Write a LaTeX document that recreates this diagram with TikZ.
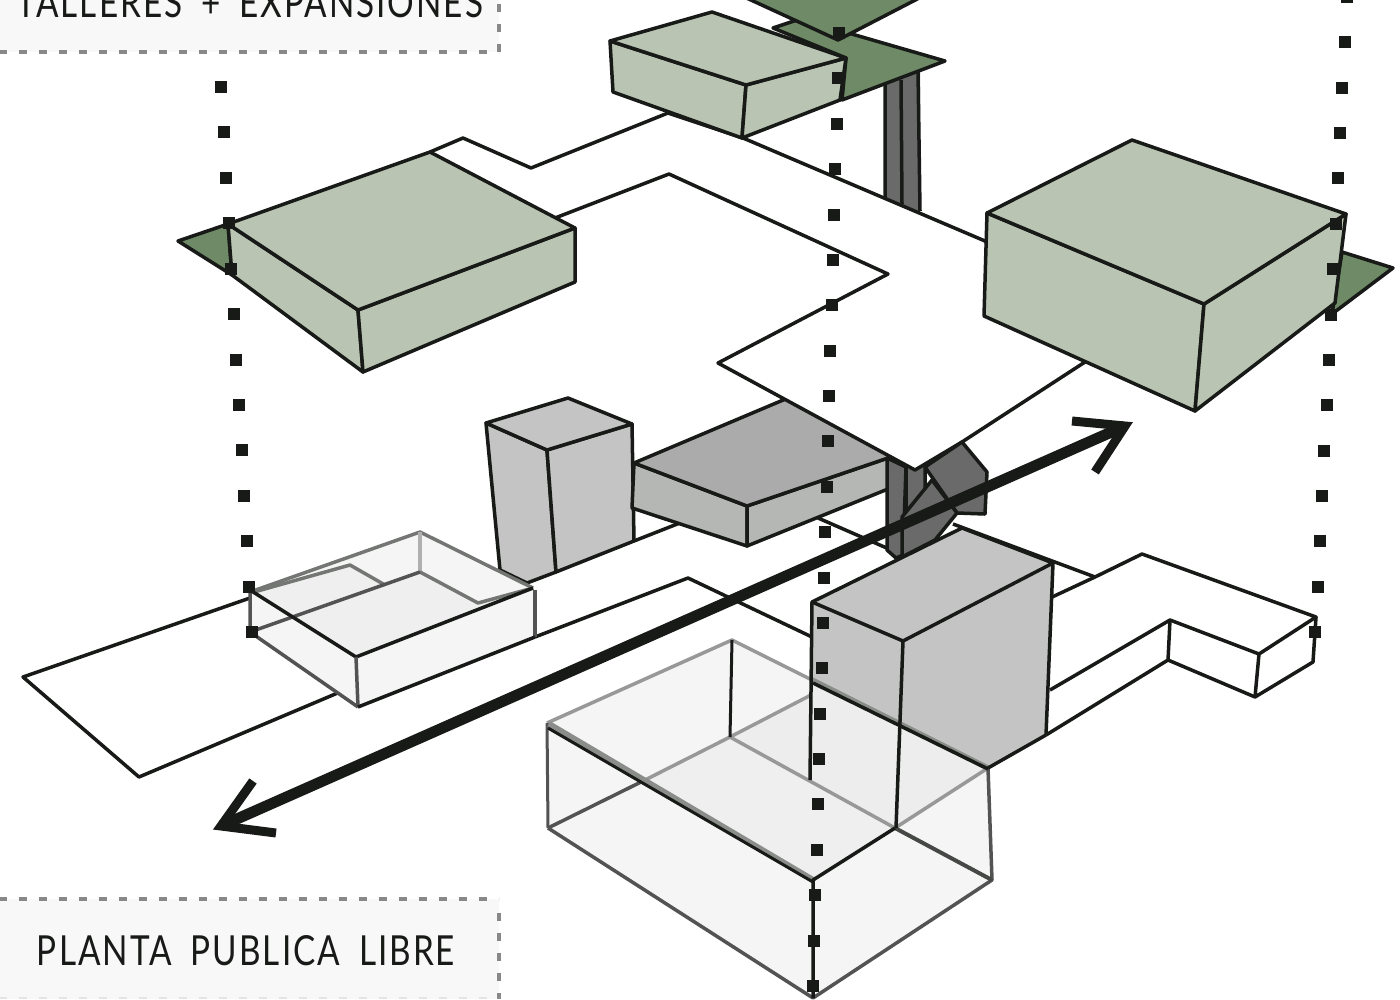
\documentclass[tikz,border=0pt]{standalone}
\usepackage{fontspec}
\setmainfont[WordSpace=1.8]{Lato}
\definecolor{ink}{HTML}{181A18}
\definecolor{lightgreen}{HTML}{B9C5B2}
\definecolor{darkgreen}{HTML}{6F8A66}
\definecolor{greyface}{HTML}{C4C4C4}
\definecolor{slabtop}{HTML}{ABABAB}
\definecolor{slabside}{HTML}{B5B7B5}
\definecolor{column}{HTML}{6A6A6A}
\definecolor{panel}{HTML}{F8F8F8}
\definecolor{dashgrey}{HTML}{888888}
\definecolor{glass}{HTML}{F5F5F5}
\definecolor{glassfloor}{HTML}{EFEFEF}
\definecolor{glassback}{HTML}{EDEDED}
\tikzset{
  ln/.style={draw=ink,line width=3.5pt,line join=round},
  edgeA/.style={draw=ink!75,line width=3.5pt,line join=round},
  edgeB/.style={draw=ink!60,line width=3.5pt,line join=round},
  edgeC/.style={draw=ink!45,line width=3.5pt,line join=round},
  panelline/.style={draw=dashgrey,line width=4pt,dash pattern=on 8pt off 12pt},
  label/.style={font=\fontsize{42}{42}\selectfont,text=ink,inner sep=0pt,anchor=base},
  sq/.style={fill=ink,draw=none}
}
\begin{document}
\begin{tikzpicture}[x=1pt,y=-1pt]
\useasboundingbox (0,0) rectangle (1400,999);
\fill[white] (0,0) rectangle (1400,999);
% panels
\fill[panel] (0,-5) rectangle (499,52);
\fill[panel] (0,899) rectangle (499,999);
\draw[panelline] (-1,52) -- (499,52);
\draw[panelline] (499,4) -- (499,52);
\draw[panelline] (-1,899) -- (499,899);
\draw[panelline] (499,913) -- (499,999);
\draw[draw=ink!12,line width=2pt,dash pattern=on 8pt off 12pt] (-1,998) -- (499,998);
\node[label] (talleres) at (250,17) {\addfontfeature{LetterSpace=6}\resizebox{466pt}{30pt}{TALLERES + EXPANSIONES}};
\node[label] (planta) at (246,965) {\addfontfeature{LetterSpace=6}\resizebox{418pt}{30pt}{PLANTA PUBLICA LIBRE}};
% upper columns
\fill[column] (885,70) -- (920,70) -- (920,215) -- (885,200) -- cycle;
\draw[ln] (885,83) -- (885,198) (901,80) -- (902,204) (918,70) -- (920,211);
% ground floor outline
\draw[ln] (250,598) -- (23,677) -- (139,777) -- (340,692);
\draw[ln] (535,637) -- (688,578) -- (812,637);
\draw[ln] (634,541) -- (690,519);
\draw[ln] (818,518) -- (905,556);
\draw[ln] (953,524) -- (1095,577);
% right wing of ground floor
\fill[white] (1048,600) -- (1095,577) -- (1142,554) -- (1316,617) -- (1313,662) -- (1255,697) -- (1168,660) -- (1046,735) -- cycle;
\draw[ln] (1050,598) -- (1095,577) -- (1142,554) -- (1316,617) -- (1259,654) -- (1170,620) -- (1050,690);
\draw[ln] (1316,617) -- (1313,662) -- (1255,697) -- (1259,654);
\draw[ln] (1170,620) -- (1168,660) -- (1046,735);
\draw[ln] (1168,660) -- (1255,697);
% tall grey box
\filldraw[ln,fill=greyface] (486,423) -- (500,570) -- (527,583) -- (556,572) -- (547,450) -- cycle;
\filldraw[ln,fill=greyface] (632,424) -- (634,541) -- (556,572) -- (547,450) -- cycle;
\filldraw[ln,fill=greyface] (486,423) -- (568,398) -- (632,424) -- (547,450) -- cycle;
% grey slab
\filldraw[ln,fill=slabside] (634,463) -- (632,508) -- (747,546) -- (747,506) -- cycle;
\filldraw[ln,fill=slabside] (747,546) -- (888,489) -- (888,458) -- (747,506) -- cycle;
\filldraw[ln,fill=slabtop] (634,463) -- (795,395) -- (893,450) -- (888,458) -- (747,506) -- cycle;
% centre columns
\filldraw[ln,fill=column] (887,458) -- (887,550) -- (896,558) -- (903,555) -- (906,467) -- cycle;
\filldraw[ln,fill=column] (906,465) -- (906,515) -- (925,490) -- (925,465) -- cycle;
% upper floor plate
\filldraw[ln,fill=white] (430,152) -- (463,138) -- (531,168) -- (668,113) -- (743,138) -- (985,241) -- (1085,362) -- (962,442) -- (915,470) -- (718,363) -- (888,274) -- (669,174) -- (555,218);
% centre hexes
\filldraw[ln,fill=column] (925,467) -- (962,442) -- (987,472) -- (985,514) -- (957,513) -- cycle;
\filldraw[ln,fill=column] (932,480) -- (957,513) -- (935,540) -- (902,557) -- (902,517) -- cycle;
% big grey box
\fill[greyface] (812,602) -- (962,528) -- (1053,563) -- (1046,735) -- (988,768) -- (812,680) -- cycle;
% glass box (large)
\fill[glass] (547,723) -- (732,640) -- (812,680) -- (988,768) -- (992,880) -- (813,998) -- (548,828) -- cycle;
\fill[glassback] (730,737) -- (812,695) -- (812,680) -- (988,768) -- (895,828) -- cycle;
\fill[glassfloor] (730,737) -- (895,828) -- (813,880) -- (645,780) -- cycle;
\draw[edgeC] (547,723) -- (732,640) -- (812,680);
\draw[edgeC] (645,780) -- (730,737) -- (811,695);
\draw[edgeC] (730,737) -- (895,828);
\draw[edgeC] (895,828) -- (988,768);
\draw[edgeA,line width=3pt] (547,723) -- (548,828);
\draw[edgeA] (548,828) -- (645,780);
\draw[edgeA] (548,828) -- (813,998) -- (992,880) -- (988,768);
\draw[ln,line width=3pt] (732,640) -- (730,737);
\draw[ink!50,line width=6pt] (549,724) -- (813,880);
\draw[ink,line width=3pt] (548,728) -- (813,882);
\draw[ink!50,line width=5.5pt] (812,680) -- (988,768);
\draw[ink,line width=3.5pt] (813,683) -- (988,769);
\draw[ink!80,line width=4pt] (895,828) -- (992,880);
\draw[ln] (895,828) -- (813,880) -- (813,998);
% big grey box lines
\draw[ln] (812,602) -- (962,528) -- (1053,563) -- (903,641) -- cycle;
\draw[ln] (812,602) -- (810,780);
\draw[ln] (903,641) -- (896,828);
\draw[ln] (1053,563) -- (1046,735);
\draw[ln] (988,768) -- (1046,735);
% small glass box
\fill[glass] (250,592) -- (420,532) -- (535,590) -- (535,637) -- (358,707) -- (250,632) -- cycle;
\fill[glassfloor] (254,592) -- (350,565) -- (385,585) -- (420,572) -- (478,603) -- (533,588) -- (356,657) -- cycle;
\draw[edgeB] (250,592) -- (420,532) -- (533,588);
\draw[draw=ink!35,line width=3.5pt] (420,532) -- (420,572);
\draw[edgeB] (254,592) -- (350,565) -- (385,585);
\draw[edgeB] (420,572) -- (478,603) -- (533,588);
\draw[edgeA] (250,592) -- (250,632) -- (358,707);
\draw[edgeA] (250,632) -- (420,572);
\draw[edgeA] (535,590) -- (535,637);
\draw[ln] (250,590) -- (356,657) -- (533,588);
\draw[edgeA] (356,657) -- (358,707);
\draw[ln] (358,707) -- (535,637);
% green plates and boxes
\filldraw[ln,fill=darkgreen] (178,241) -- (228,224) -- (232,275) -- cycle;
\filldraw[ln,fill=lightgreen] (228,224) -- (232,275) -- (363,372) -- (358,310) -- cycle;
\filldraw[ln,fill=lightgreen] (358,310) -- (575,228) -- (575,282) -- (363,372) -- cycle;
\filldraw[ln,fill=lightgreen] (228,224) -- (430,152) -- (575,228) -- (358,310) -- cycle;
%
\filldraw[ln,fill=darkgreen] (773,28) -- (800,19) -- (945,61) -- (842,100) -- (846,58) -- cycle;
\filldraw[ln,fill=lightgreen] (610,41) -- (613,92) -- (742,138) -- (746,85) -- cycle;
\filldraw[ln,fill=lightgreen] (746,85) -- (846,58) -- (840,100) -- (742,138) -- cycle;
\filldraw[ln,fill=lightgreen] (610,41) -- (712,12) -- (846,58) -- (746,85) -- cycle;
\filldraw[ln,fill=darkgreen] (740,-5) -- (838,40) -- (925,-5) -- cycle;
%
\filldraw[ln,fill=darkgreen] (1342,252) -- (1393,268) -- (1332,314) -- cycle;
\filldraw[ln,fill=lightgreen] (987,213) -- (984,316) -- (1195,411) -- (1204,304) -- cycle;
\filldraw[ln,fill=lightgreen] (1204,304) -- (1346,214) -- (1335,303) -- (1195,411) -- cycle;
\filldraw[ln,fill=lightgreen] (987,213) -- (1132,140) -- (1346,214) -- (1204,304) -- cycle;
% main arrow
\coordinate (tipA) at (221,826);
\coordinate (tipB) at (1125,426);
\draw[ink,line width=11pt] (tipA) -- (tipB);
\draw[ink,line width=9pt,miter limit=10] (276,833) -- (221,826) -- (253,781);
\draw[ink,line width=9pt,miter limit=10] (1072,421) -- (1125,426) -- (1095,472);
% dotted verticals
\foreach \i in {0,...,12} {
  \pgfmathsetmacro{\px}{221+2.58*\i}
  \pgfmathsetmacro{\py}{87+45.42*\i}
  \fill[sq] (\px-6,\py-6) rectangle (\px+6,\py+6);
}
\foreach \i in {0,...,21} {
  \pgfmathsetmacro{\px}{839-1.238*\i}
  \pgfmathsetmacro{\py}{33+45.38*\i}
  \fill[sq] (\px-6,\py-6) rectangle (\px+6,\py+6);
}
\foreach \i in {0,...,14} {
  \pgfmathsetmacro{\px}{1347-2.27*\i}
  \pgfmathsetmacro{\py}{-3+45.36*\i}
  \fill[sq] (\px-6,\py-6) rectangle (\px+6,\py+6);
}
\end{tikzpicture}
\end{document}
